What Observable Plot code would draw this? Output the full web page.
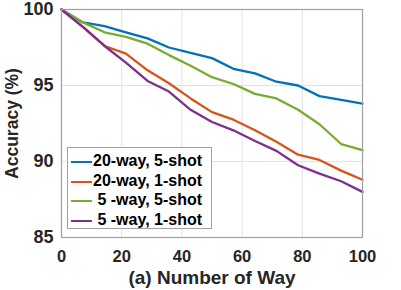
<!DOCTYPE html>
<html>
<head>
<meta charset="utf-8">
<script src="https://cdn.jsdelivr.net/npm/d3@7"></script>
<script src="https://cdn.jsdelivr.net/npm/@observablehq/plot@0.6"></script>
<style>
html,body{margin:0;padding:0;background:#fff;}
#wrap{position:relative;width:401px;height:290px;font-family:"Liberation Sans",Arial,sans-serif;}
#legend{position:absolute;left:67px;top:147px;width:145px;height:82px;background:#fff;border:1px solid #a0a0a0;box-sizing:border-box;font-weight:bold;font-size:16px;color:#000;}
#legend .row{position:absolute;left:0;height:20px;line-height:20px;white-space:pre;}
#legend .sw{position:absolute;left:3px;top:10px;width:21px;height:2px;}
#legend .tx{position:absolute;left:25px;top:0;}
</style>
</head>
<body>
<div id="wrap"><div id="chart"></div><div id="legend"></div></div>
<script>
const ways = [0, 7.1, 14.3, 21.4, 28.6, 35.7, 42.9, 50, 57.1, 64.3, 71.4, 78.6, 85.7, 92.9, 100];
const way20shot5 = [100, 99.15, 98.9, 98.5, 98.1, 97.5, 97.15, 96.8, 96.1, 95.8, 95.25, 95.0, 94.3, 94.05, 93.8];
const way20shot1 = [100, 98.85, 97.6, 97.1, 96.0, 95.15, 94.15, 93.25, 92.75, 92.05, 91.3, 90.45, 90.1, 89.4, 88.8];
const way5shot5 = [100, 99.15, 98.5, 98.2, 97.75, 97.0, 96.3, 95.55, 95.1, 94.45, 94.15, 93.4, 92.45, 91.15, 90.75];
const way5shot1 = [100, 98.85, 97.6, 96.5, 95.3, 94.6, 93.4, 92.6, 92.05, 91.35, 90.7, 89.75, 89.2, 88.7, 88.0];
const seriesNames = ["20-way, 5-shot", "20-way, 1-shot", " 5 -way, 5-shot", " 5 -way, 1-shot"];
const seriesValues = [way20shot5, way20shot1, way5shot5, way5shot1];
const colors = ["#0072BD", "#D95319", "#77AC30", "#7E2F8E"];
const xTicks = [0, 20, 40, 60, 80, 100];
const yTicks = [85, 90, 95, 100];

const data = [];
seriesNames.forEach((s, i) => ways.forEach((w, j) => data.push({series: s, way: w, acc: seriesValues[i][j]})));

const font = `"Liberation Sans", Arial, sans-serif`;
const chart = Plot.plot({
  width: 401,
  height: 290,
  marginLeft: 61,
  marginRight: 39,
  marginTop: 9,
  marginBottom: 53,
  style: {fontFamily: font, background: "#fff"},
  x: {domain: [0, 100]},
  y: {domain: [85, 100]},
  color: {domain: seriesNames, range: colors},
  marks: [
    Plot.gridX(xTicks.slice(1, -1), {stroke: "#e3e3e3", strokeOpacity: 1}),
    Plot.gridY(yTicks.slice(1, -1), {stroke: "#e3e3e3", strokeOpacity: 1}),
    Plot.line(data, {x: "way", y: "acc", z: "series", stroke: "series", strokeWidth: 2.3}),
    Plot.frame({stroke: "#a0a0a0", strokeWidth: 1.2}),
    Plot.axisX(xTicks, {tickSize: 0, tickPadding: 13, fontSize: 17, fontWeight: "bold", fill: "#262626",
      label: "(a) Number of Way", labelAnchor: "center", labelArrow: "none", labelOffset: 46}),
    Plot.axisY(yTicks, {tickSize: 0, tickPadding: 8, fontSize: 18, fontWeight: "bold", fill: "#262626",
      label: "Accuracy (%)", labelAnchor: "center", labelArrow: "none", labelOffset: 56})
  ]
});
document.getElementById("chart").appendChild(chart);
function styleTexts(sel, size) {
  chart.querySelectorAll(sel).forEach(g => {
    g.setAttribute("font-size", size);
    g.setAttribute("font-weight", "bold");
    g.style.fontSize = size + "px";
    g.style.fontWeight = "bold";
    g.querySelectorAll("text").forEach(t => {
      t.setAttribute("font-size", size);
      t.style.fontSize = size + "px";
      t.setAttribute("fill", "#262626");
    });
  });
}
styleTexts("g[aria-label='x-axis tick label']", 16.5);
styleTexts("g[aria-label='y-axis tick label']", 18);
styleTexts("g[aria-label='x-axis label']", 19);
styleTexts("g[aria-label='y-axis label']", 17.5);

const legend = document.getElementById("legend");
seriesNames.forEach((s, i) => {
  const row = document.createElement("div");
  row.className = "row";
  row.style.top = (3 + i * 19.5) + "px";
  row.innerHTML = `<div class="sw" style="background:${colors[i]}"></div><div class="tx">${s}</div>`;
  legend.appendChild(row);
});
</script>
</body>
</html>
